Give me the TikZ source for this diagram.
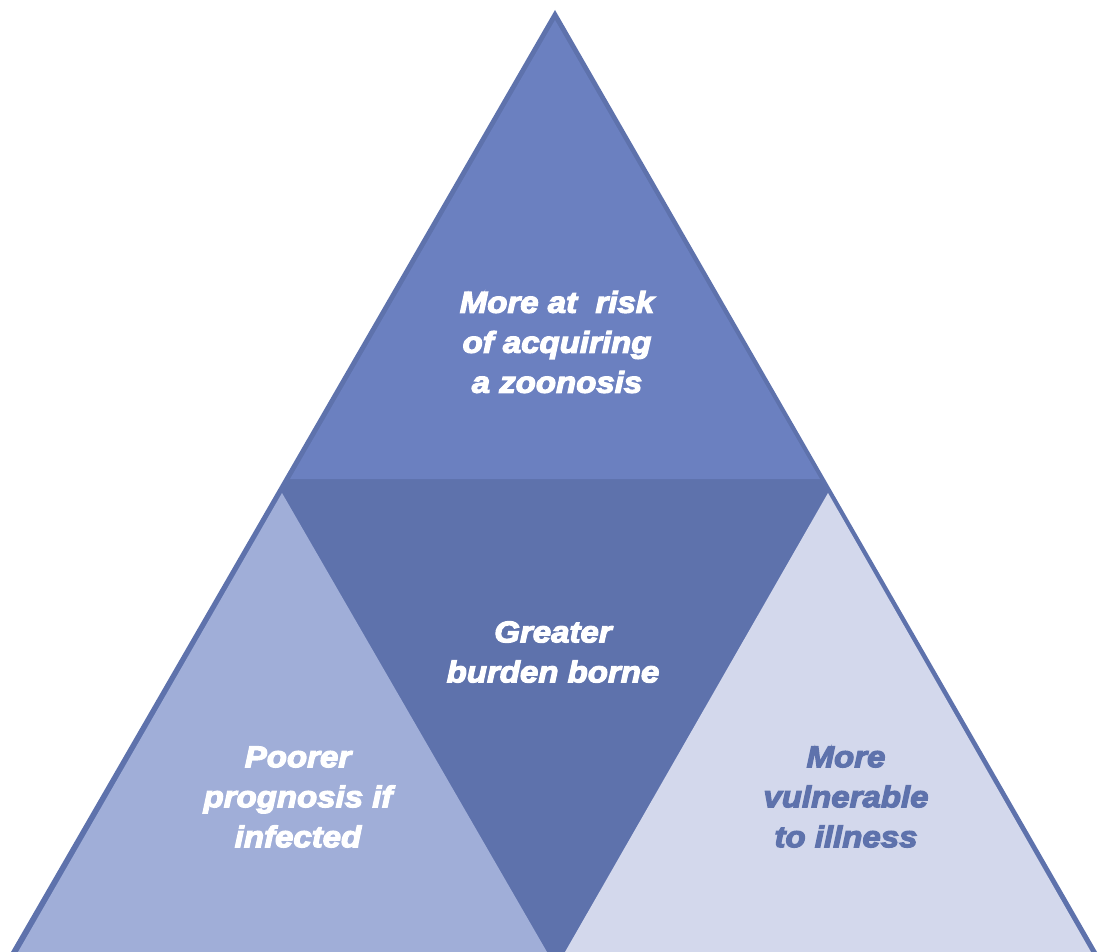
\documentclass[tikz,border=0pt]{standalone}
\usepackage{fontspec}
\setmainfont{Liberation Sans}[BoldItalicFeatures={FakeStretch=1.1}]
\definecolor{dark}{HTML}{5E72AC}
\definecolor{topc}{HTML}{6B80C0}
\definecolor{leftc}{HTML}{A0AED8}
\definecolor{rightc}{HTML}{D3D8EC}
\newcommand{\heavytext}[1]{\special{pdf:literal direct 2 Tr 1.2 w}#1\special{pdf:literal direct 0 Tr}}
\begin{document}
\begin{tikzpicture}[x=1pt,y=-1pt,
  lbl/.style={align=center,font=\fontsize{30}{40}\selectfont\bfseries\itshape,inner sep=0pt}]
\useasboundingbox (0,0) rectangle (1100,952);
% outer triangle (outline + middle region)
\fill[dark] (555,10) -- (1097,952) -- (11,952) -- cycle;
% top triangle
\fill[topc] (555,20) -- (820,479) -- (290,479) -- cycle;
% left triangle
\fill[leftc] (282,493) -- (547,952) -- (18,952) -- cycle;
% right triangle
\fill[rightc] (828,493) -- (1091,952) -- (565,952) -- cycle;
% labels
\node[lbl,text=white] (top) at (557,342) {\heavytext{More at~ risk\\of acquiring\\a zoonosis}};
\node[lbl,text=white] (mid) at (553,652) {\heavytext{Greater\\burden borne}};
\node[lbl,text=white] (left) at (298,797) {\heavytext{Poorer\\prognosis if\\infected}};
\node[lbl,text=dark] (right) at (846,797) {\heavytext{More\\vulnerable\\to illness}};
\end{tikzpicture}
\end{document}
